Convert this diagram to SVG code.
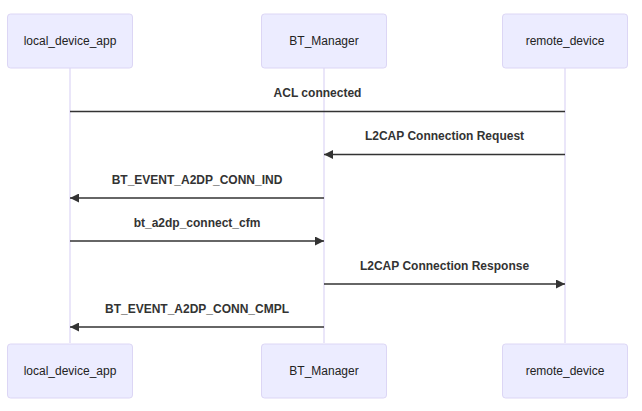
<svg xmlns="http://www.w3.org/2000/svg" width="642" height="411" viewBox="0 0 642 411">
<style>
.actor{fill:#ECECFF;stroke:#DCD6F5;stroke-width:1}
.actorText{font-family:"Liberation Sans",Arial,sans-serif;font-size:12px;fill:#222;text-anchor:middle;dominant-baseline:central}
.lifeline{stroke:#DCD6F5;stroke-width:1.2}
.msg{stroke:#333;stroke-width:1.5;fill:none}
.msgText{font-family:"Liberation Sans",Arial,sans-serif;font-size:12px;font-weight:bold;fill:#333;text-anchor:middle}
</style>
<defs>
<marker id="arrow" markerUnits="userSpaceOnUse" markerWidth="10" markerHeight="9" refX="9" refY="4.5" orient="auto">
<path d="M0,0 L9,4.5 L0,9 z" fill="#333"/>
</marker>
</defs>
<rect width="642" height="411" fill="#fff"/>
<g id="lifelines">
<line class="lifeline" x1="70" y1="68" x2="70" y2="343"/>
<line class="lifeline" x1="324" y1="68" x2="324" y2="343"/>
<line class="lifeline" x1="565" y1="68" x2="565" y2="343"/>
</g>
<g id="local_device_app">
<rect class="actor" x="7.5" y="14" width="125" height="54" rx="3"/>
<text class="actorText" x="70" y="41">local_device_app</text>
<rect class="actor" x="7.5" y="344" width="125" height="54" rx="3"/>
<text class="actorText" x="70" y="371">local_device_app</text>
</g>
<g id="BT_Manager">
<rect class="actor" x="261.5" y="14" width="125" height="54" rx="3"/>
<text class="actorText" x="324" y="41">BT_Manager</text>
<rect class="actor" x="261.5" y="344" width="125" height="54" rx="3"/>
<text class="actorText" x="324" y="371">BT_Manager</text>
</g>
<g id="remote_device">
<rect class="actor" x="502.5" y="14" width="125" height="54" rx="3"/>
<text class="actorText" x="565" y="41">remote_device</text>
<rect class="actor" x="502.5" y="344" width="125" height="54" rx="3"/>
<text class="actorText" x="565" y="371">remote_device</text>
</g>
<g id="connectors">
<line class="msg" x1="565" y1="111.5" x2="70" y2="111.5"/>
<text class="msgText" x="317.5" y="97">ACL connected</text>
<line class="msg" x1="565" y1="154.5" x2="324" y2="154.5" marker-end="url(#arrow)"/>
<text class="msgText" x="444.5" y="140">L2CAP Connection Request</text>
<line class="msg" x1="324" y1="198" x2="70" y2="198" marker-end="url(#arrow)"/>
<text class="msgText" x="197" y="184">BT_EVENT_A2DP_CONN_IND</text>
<line class="msg" x1="70" y1="241" x2="324" y2="241" marker-end="url(#arrow)"/>
<text class="msgText" x="197" y="227">bt_a2dp_connect_cfm</text>
<line class="msg" x1="324" y1="284" x2="565" y2="284" marker-end="url(#arrow)"/>
<text class="msgText" x="444.5" y="270">L2CAP Connection Response</text>
<line class="msg" x1="324" y1="327" x2="70" y2="327" marker-end="url(#arrow)"/>
<text class="msgText" x="197" y="313">BT_EVENT_A2DP_CONN_CMPL</text>
</g>
</svg>
